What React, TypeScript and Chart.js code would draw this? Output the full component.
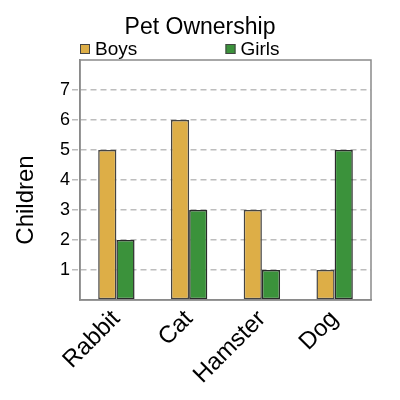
import React, { useEffect, useRef } from "react";
import Chart from "chart.js/auto";

const pets = ["Rabbit", "Cat", "Hamster", "Dog"];
const boys = [5, 6, 3, 1];
const girls = [2, 3, 1, 5];
const seriesNames = ["Boys", "Girls"];
const seriesColors = ["#ddae47", "#3b923b"];
const yTicks = [1, 2, 3, 4, 5, 6, 7];
const chartTitle = "Pet Ownership";
const yTitle = "Children";

const FONT = "'Liberation Sans', Arial, sans-serif";

// draws the title, the two-column legend, the y title and the grey frame round the plot
const framePlugin = {
	id: "frame",
	afterDraw(chart: any) {
		const { ctx, chartArea } = chart;
		ctx.save();
		ctx.strokeStyle = "#8a8a8a";
		ctx.lineWidth = 1.5;
		ctx.strokeRect(chartArea.left, chartArea.top, chartArea.right - chartArea.left, chartArea.bottom - chartArea.top);

		ctx.fillStyle = "#000";
		ctx.font = "23px " + FONT;
		ctx.textAlign = "center";
		ctx.textBaseline = "alphabetic";
		ctx.fillText(chartTitle, 200, 34);

		const half = (chartArea.right - chartArea.left) / 2;
		ctx.font = "19px " + FONT;
		ctx.textAlign = "left";
		ctx.textBaseline = "middle";
		seriesNames.forEach((name, i) => {
			const x = chartArea.left + i * half;
			const y = 49;
			ctx.fillStyle = seriesColors[i];
			ctx.fillRect(x, y - 5, 10, 10);
			ctx.strokeStyle = "#444";
			ctx.lineWidth = 1;
			ctx.strokeRect(x + 0.5, y - 4.5, 9, 9);
			ctx.fillStyle = "#000";
			ctx.fillText(name, x + 15, y + 1);
		});

		ctx.translate(26, 200);
		ctx.rotate(-Math.PI / 2);
		ctx.font = "24px " + FONT;
		ctx.textAlign = "center";
		ctx.fillText(yTitle, 0, 0);
		ctx.restore();
	},
};

const PetChart: React.FC = () => {
	const chartRef = useRef<HTMLCanvasElement>(null);

	useEffect(() => {
		if (!chartRef.current) return;
		const chart = new Chart(chartRef.current, {
			type: "bar",
			data: {
				labels: pets,
				datasets: [
					{
						label: seriesNames[0],
						data: boys,
						backgroundColor: seriesColors[0],
						borderColor: "#444",
						borderWidth: 1.5,
						borderSkipped: false,
						categoryPercentage: 0.5,
						barPercentage: 1,
					},
					{
						label: seriesNames[1],
						data: girls,
						backgroundColor: seriesColors[1],
						borderColor: "#2a2a2a",
						borderWidth: 1.5,
						borderSkipped: false,
						categoryPercentage: 0.5,
						barPercentage: 1,
					},
				],
			},
			options: {
				animation: false,
				responsive: true,
				maintainAspectRatio: false,
				layout: { padding: { left: 0, right: 29, top: 60, bottom: 0 } },
				plugins: {
					legend: { display: false },
					tooltip: { enabled: false },
					title: { display: false },
				},
				scales: {
					x: {
						grid: { display: false },
						border: { color: "#8a8a8a", width: 1.5 },
						ticks: {
							color: "#000",
							font: { family: FONT, size: 24 },
							minRotation: 45,
							maxRotation: 45,
							padding: -3,
						},
						afterFit: (scale: any) => {
							scale.height = 100;
						},
					},
					y: {
						min: 0,
						max: 8,
						border: { color: "#8a8a8a", width: 1.5, dash: [6, 4] },
						grid: {
							color: (c: any) => (yTicks.includes(c.tick?.value) ? "#bdbdbd" : "rgba(0,0,0,0)"),
							lineWidth: 1.5,
							tickLength: 8,
							tickBorderDash: [6, 4],
						},
						ticks: {
							stepSize: 1,
							color: "#000",
							padding: 2,
							font: { family: FONT, size: 18 },
							callback: (v: any) => (yTicks.includes(v) ? String(v) : ""),
						},
						afterFit: (scale: any) => {
							scale.width = 80;
						},
					},
				},
			},
			plugins: [framePlugin],
		});
		return () => {
			chart.destroy();
		};
	}, []);

	return (
		<div style={{ position: "fixed", left: 0, top: 0, width: 400, height: 400, background: "#fff" }}>
			<canvas ref={chartRef} />
		</div>
	);
};

export default function App() {
	return <PetChart />;
}
